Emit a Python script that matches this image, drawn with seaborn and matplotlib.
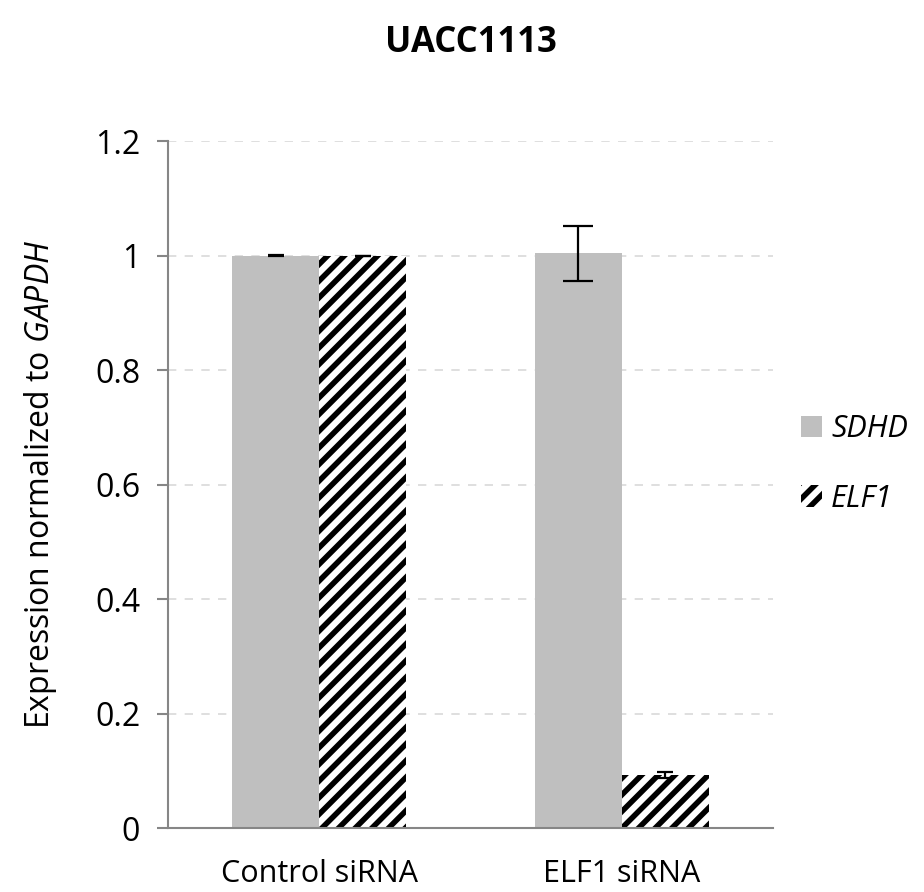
import numpy as np
import pandas as pd
import matplotlib
matplotlib.use("Agg")
import matplotlib.pyplot as plt
import seaborn as sns
from matplotlib.ticker import FixedLocator

# Data
conditions = ["Control siRNA", "ELF1 siRNA"]
genes = ["SDHD", "ELF1"]
sdhd_means = [1.000, 1.004]
sdhd_errs = [0.001, 0.048]
elf1_means = [1.000, 0.093]
elf1_errs = [0.000, 0.005]
yticks = [0, 0.2, 0.4, 0.6, 0.8, 1.0, 1.2]
ytick_labels = ["0", "0.2", "0.4", "0.6", "0.8", "1", "1.2"]

sns.set_theme(style="white")
plt.rcParams["font.family"] = ["Open Sans", "DejaVu Sans"]
plt.rcParams["mathtext.fontset"] = "custom"
plt.rcParams["mathtext.it"] = "Open Sans:italic"
plt.rcParams["mathtext.rm"] = "Open Sans"
plt.rcParams["hatch.linewidth"] = 4.0
plt.rcParams["hatch.color"] = "black"
plt.rcParams["text.color"] = "black"
plt.rcParams["axes.labelcolor"] = "black"
plt.rcParams["xtick.labelcolor"] = "black"
plt.rcParams["ytick.labelcolor"] = "black"

df = pd.DataFrame({
    "condition": conditions * 2,
    "gene": [genes[0]] * 2 + [genes[1]] * 2,
    "value": sdhd_means + elf1_means,
    "err": sdhd_errs + elf1_errs,
})

fig = plt.figure(figsize=(9.24, 8.92), dpi=100)
ax = fig.add_axes([0.1818, 0.0717, 0.6548, 0.7702])

sns.barplot(data=df, x="condition", y="value", hue="gene",
            palette={"SDHD": "#bfbfbf", "ELF1": "white"},
            width=0.575, gap=0, errorbar=None, ax=ax,
            edgecolor="none", linewidth=0, legend=True)

# hatch the ELF1 bars and put error bars on every bar
for container, gene in zip(ax.containers, genes):
    sub = df[df["gene"] == gene]
    for patch, (_, row) in zip(container.patches, sub.iterrows()):
        if gene == "ELF1":
            patch.set_hatch("//")
            patch.set_edgecolor("black")
            patch.set_linewidth(0)
        cx = patch.get_x() + patch.get_width() / 2
        cap = 11 if row["err"] > 0.02 else 6
        ax.errorbar(cx, row["value"], yerr=row["err"], fmt="none",
                    ecolor="black", elinewidth=1.6, capsize=cap,
                    capthick=1.6, zorder=5)

ax.set_ylim(0, 1.2)
ax.set_xlim(-0.5, 1.5)
ax.set_yticks(yticks)
ax.set_yticklabels(ytick_labels, fontsize=23)
ax.set_xticks([0, 1])
ax.set_xticklabels(conditions, fontsize=22)
ax.xaxis.set_minor_locator(FixedLocator([-0.5, 0.5, 1.5]))
ax.tick_params(axis="x", which="major", length=0, pad=22)
ax.tick_params(axis="x", which="minor", length=8, width=1.5,
               color="#868686", direction="out")
ax.tick_params(axis="y", which="major", length=8, width=1.5,
               color="#868686", direction="out", left=True, pad=12)

ax.yaxis.grid(True, linestyle=(0, (5, 5)), color="#d9d9d9", linewidth=1.2)
ax.set_axisbelow(True)
for side in ["top", "right"]:
    ax.spines[side].set_visible(False)
for side in ["left", "bottom"]:
    ax.spines[side].set_color("#868686")
    ax.spines[side].set_linewidth(1.5)

ax.set_xlabel("")
ax.set_ylabel(r"Expression normalized to $\mathit{GAPDH}$", fontsize=23,
              labelpad=26)

fig.suptitle("UACC1113", fontsize=25, fontweight="bold", x=0.51, y=0.972)

handles, labels = ax.get_legend_handles_labels()
handles[1].set_hatch("//")
handles[1].set_edgecolor("black")
handles[1].set_linewidth(0)
leg = ax.legend(handles, labels, loc="center left",
                bbox_to_anchor=(1.0, 0.53), frameon=False,
                prop={"style": "italic", "size": 22},
                handlelength=0.7, handleheight=0.7, handletextpad=0.3,
                labelspacing=1.3)

fig.savefig("out.png", dpi=100)
